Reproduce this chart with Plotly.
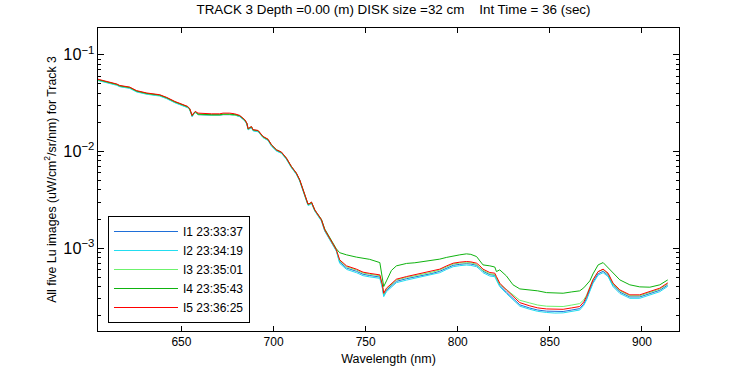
import plotly.graph_objects as go

wavelength = [604.7, 611.1, 614.9, 616.5, 621.9, 625.7, 631.2, 638.2, 642.0, 646.4,
              650.7, 653.4, 654.5, 655.8, 656.7, 657.6, 659.0, 662.6, 666.4, 670.8,
              672.6, 676.2, 678.9, 681.6, 683.3, 684.4, 685.5, 686.2, 687.1, 688.0,
              688.9, 691.6, 694.3, 697.0, 698.9, 701.6, 704.3, 707.0, 709.7, 712.4,
              714.2, 715.5, 716.9, 718.7, 719.7, 720.6, 722.4, 724.2, 726.0, 727.8,
              730.5, 734.1, 735.9, 739.6, 745.0, 748.6, 752.2, 757.7, 759.1, 759.8,
              761.3, 764.0, 766.7, 772.2, 776.7, 781.2, 785.9, 790.2, 794.0, 797.5,
              801.1, 804.7, 807.1, 810.2, 812.0, 813.7, 817.4, 820.1, 821.0, 822.8,
              826.4, 830.0, 833.7, 839.1, 843.4, 848.2, 852.7, 857.2, 861.9, 866.2,
              868.4, 869.9, 871.7, 873.4, 876.2, 878.9, 881.6, 884.3, 888.0, 893.4,
              898.8, 904.3, 909.7, 914.0]

i5_red = [0.0558, 0.0522, 0.0498, 0.0481, 0.0463, 0.0425, 0.0402, 0.0386, 0.0362, 0.0329,
          0.0308, 0.0292, 0.0277, 0.0236, 0.0251, 0.0259, 0.0249, 0.0245, 0.0245, 0.0245,
          0.0249, 0.0249, 0.0245, 0.0236, 0.0223, 0.0213, 0.0197, 0.0172, 0.0177, 0.0181,
          0.0168, 0.0165, 0.0143, 0.0134, 0.0117, 0.0104, 0.00986, 0.00855, 0.00700, 0.00598,
          0.00510, 0.00435, 0.00356, 0.00286, 0.00291, 0.00300, 0.00249, 0.00221, 0.00197, 0.00155,
          0.00125, 0.000963, 0.000759, 0.000658, 0.000608, 0.000566, 0.000550, 0.000531, 0.000419, 0.000343,
          0.000387, 0.000436, 0.000479, 0.000510, 0.000531, 0.000553, 0.000577, 0.000608, 0.000658, 0.000701,
          0.000718, 0.000729, 0.000723, 0.000701, 0.000658, 0.000608, 0.000561, 0.000553, 0.000510, 0.000436,
          0.000371, 0.000317, 0.000274, 0.000254, 0.000242, 0.000236, 0.000233, 0.000234, 0.000242, 0.000250,
          0.000279, 0.000317, 0.000390, 0.000471, 0.000574, 0.000608, 0.000553, 0.000436, 0.000371, 0.000330,
          0.000330, 0.000356, 0.000387, 0.000439]

i1_blue = [0.0547, 0.0512, 0.0488, 0.0471, 0.0454, 0.0417, 0.0394, 0.0378, 0.0355, 0.0322,
           0.0302, 0.0286, 0.0271, 0.0231, 0.0246, 0.0254, 0.0240, 0.0237, 0.0237, 0.0237,
           0.0240, 0.0240, 0.0238, 0.0231, 0.0219, 0.0209, 0.0193, 0.0169, 0.0173, 0.0177,
           0.0165, 0.0162, 0.0140, 0.0131, 0.0115, 0.0102, 0.00966, 0.00838, 0.00686, 0.00586,
           0.00500, 0.00426, 0.00349, 0.00280, 0.00285, 0.00294, 0.00244, 0.00217, 0.00193, 0.00152,
           0.00123, 0.000944, 0.000721, 0.000625, 0.000578, 0.000538, 0.000523, 0.000504, 0.000398, 0.000326,
           0.000368, 0.000414, 0.000455, 0.000485, 0.000504, 0.000525, 0.000548, 0.000578, 0.000625, 0.000666,
           0.000682, 0.000693, 0.000687, 0.000666, 0.000625, 0.000578, 0.000533, 0.000525, 0.000485, 0.000414,
           0.000352, 0.000301, 0.000260, 0.000241, 0.000230, 0.000224, 0.000221, 0.000222, 0.000230, 0.000238,
           0.000265, 0.000301, 0.000371, 0.000447, 0.000545, 0.000578, 0.000525, 0.000414, 0.000352, 0.000314,
           0.000314, 0.000338, 0.000368, 0.000417]

i2_cyan = [0.0541, 0.0506, 0.0483, 0.0467, 0.0449, 0.0412, 0.0390, 0.0374, 0.0351, 0.0319,
           0.0299, 0.0283, 0.0269, 0.0229, 0.0243, 0.0251, 0.0242, 0.0238, 0.0238, 0.0238,
           0.0242, 0.0242, 0.0238, 0.0229, 0.0216, 0.0207, 0.0191, 0.0167, 0.0172, 0.0176,
           0.0163, 0.0160, 0.0139, 0.0130, 0.0113, 0.0101, 0.00956, 0.00829, 0.00679, 0.00580,
           0.00495, 0.00422, 0.00345, 0.00277, 0.00282, 0.00291, 0.00242, 0.00214, 0.00191, 0.00150,
           0.00121, 0.000934, 0.000698, 0.000605, 0.000559, 0.000521, 0.000506, 0.000489, 0.000385, 0.000316,
           0.000356, 0.000401, 0.000441, 0.000469, 0.000489, 0.000509, 0.000531, 0.000559, 0.000605, 0.000645,
           0.000661, 0.000671, 0.000665, 0.000645, 0.000605, 0.000559, 0.000516, 0.000509, 0.000469, 0.000401,
           0.000341, 0.000292, 0.000252, 0.000234, 0.000223, 0.000217, 0.000214, 0.000215, 0.000223, 0.000230,
           0.000257, 0.000292, 0.000359, 0.000433, 0.000528, 0.000559, 0.000509, 0.000401, 0.000341, 0.000304,
           0.000304, 0.000328, 0.000356, 0.000404]

i3_lightgreen = [0.0550, 0.0515, 0.0491, 0.0474, 0.0456, 0.0419, 0.0396, 0.0380, 0.0357, 0.0324,
                 0.0303, 0.0288, 0.0273, 0.0233, 0.0247, 0.0255, 0.0241, 0.0238, 0.0238, 0.0238,
                 0.0241, 0.0241, 0.0239, 0.0233, 0.0220, 0.0210, 0.0195, 0.0170, 0.0175, 0.0179,
                 0.0166, 0.0163, 0.0141, 0.0132, 0.0116, 0.0103, 0.00976, 0.00846, 0.00693, 0.00592,
                 0.00505, 0.00431, 0.00352, 0.00283, 0.00288, 0.00297, 0.00246, 0.00219, 0.00195, 0.00154,
                 0.00124, 0.000953, 0.000744, 0.000645, 0.000596, 0.000555, 0.000539, 0.000520, 0.000411, 0.000336,
                 0.000379, 0.000427, 0.000469, 0.000500, 0.000520, 0.000542, 0.000565, 0.000596, 0.000645, 0.000687,
                 0.000704, 0.000714, 0.000709, 0.000680, 0.000638, 0.000590, 0.000544, 0.000536, 0.000495, 0.000423,
                 0.000375, 0.000330, 0.000290, 0.000272, 0.000259, 0.000252, 0.000249, 0.000250, 0.000259, 0.000268,
                 0.000293, 0.000327, 0.000398, 0.000475, 0.000574, 0.000602, 0.000542, 0.000427, 0.000364, 0.000323,
                 0.000323, 0.000349, 0.000379, 0.000430]

i4_green = [0.0552, 0.0518, 0.0494, 0.0477, 0.0459, 0.0421, 0.0398, 0.0383, 0.0359, 0.0326,
            0.0305, 0.0290, 0.0275, 0.0234, 0.0249, 0.0257, 0.0243, 0.0240, 0.0240, 0.0240,
            0.0243, 0.0243, 0.0241, 0.0234, 0.0221, 0.0211, 0.0196, 0.0171, 0.0176, 0.0180,
            0.0167, 0.0164, 0.0142, 0.0133, 0.0117, 0.0104, 0.00980, 0.00850, 0.00697, 0.00596,
            0.00508, 0.00433, 0.00354, 0.00285, 0.00290, 0.00299, 0.00248, 0.00222, 0.00199, 0.00158,
            0.00128, 0.000985, 0.000900, 0.000855, 0.000810, 0.000791, 0.000768, 0.000711, 0.000500, 0.000402,
            0.000460, 0.000590, 0.000658, 0.000697, 0.000708, 0.000729, 0.000750, 0.000772, 0.000805, 0.000834,
            0.000855, 0.000875, 0.000865, 0.000821, 0.000750, 0.000673, 0.000658, 0.000640, 0.000574, 0.000598,
            0.000518, 0.000419, 0.000380, 0.000371, 0.000363, 0.000348, 0.000346, 0.000343, 0.000354, 0.000363,
            0.000390, 0.000419, 0.000460, 0.000543, 0.000673, 0.000711, 0.000627, 0.000557, 0.000471, 0.000419,
            0.000399, 0.000396, 0.000419, 0.000471]

series_names = ["I1 23:33:37", "I2 23:34:19", "I3 23:35:01", "I4 23:35:43", "I5 23:36:25"]
series_values = [i1_blue, i2_cyan, i3_lightgreen, i4_green, i5_red]
series_colors = ["#1f6fd8", "#22ddf0", "#6cf26c", "#0fb30f", "#ff0000"]

fig = go.Figure()
for name, vals, col in zip(series_names, series_values, series_colors):
    fig.add_trace(go.Scatter(x=wavelength, y=vals, mode="lines", name=name,
                             line=dict(color=col, width=1)))

font_family = "Liberation Sans, Arial, sans-serif"
fig.update_layout(
    width=750, height=375,
    margin=dict(l=98, r=71, t=28, b=44, autoexpand=False),
    paper_bgcolor="white", plot_bgcolor="white",
    font=dict(family=font_family, size=12, color="black"),
    title=dict(text="TRACK 3 Depth =0.00 (m) DISK size =32 cm    Int Time = 36 (sec)",
               x=0.5086, xref="paper", xanchor="center", y=0.976, yanchor="middle",
               font=dict(size=13.4, family=font_family)),
    showlegend=True,
    legend=dict(x=0.0172, y=0.3795, xanchor="left", yanchor="top",
                bordercolor="black", borderwidth=1, bgcolor="white",
                itemwidth=64,
                font=dict(size=12, family=font_family), tracegroupgap=0),
)
fig.update_xaxes(
    range=[604.7, 920.1], showgrid=False, zeroline=False, automargin=False,
    showline=True, linecolor="black", linewidth=1, mirror="ticks",
    ticks="inside", ticklen=5, tickcolor="black",
    tickvals=[650, 700, 750, 800, 850, 900],
    title=dict(text="Wavelength (nm)", standoff=5, font=dict(size=12.5)),
)
fig.update_yaxes(
    type="log", range=[-3.855, -0.724], showgrid=False, zeroline=False, automargin=False,
    showline=True, linecolor="black", linewidth=1, mirror="ticks",
    ticks="inside", ticklen=6, tickcolor="black",
    dtick=1, exponentformat="power", tickfont=dict(size=13),
    minor=dict(ticks="inside", ticklen=3, tickcolor="black", showgrid=False),
    title=dict(text="All five Lu images (uW/cm<sup>2</sup>/sr/nm) for Track 3", standoff=4,
               font=dict(size=12.3)),
)
fig.write_html("out.html", config={"displayModeBar": False},
               post_script="document.body.style.margin='0px';")
